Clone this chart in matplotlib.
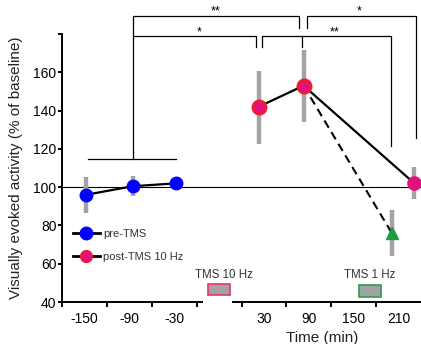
'''
Visually evoked activity before and after 10 Hz TMS (broken time axis).
'''

import matplotlib
matplotlib.use('Agg')
import matplotlib.pyplot as plt
from matplotlib.patches import Rectangle

plt.rcParams['font.family'] = ['Liberation Sans', 'DejaVu Sans']

# pre-TMS baseline
pre_time = [-148, -85, -27]
pre_mean = [96, 100.5, 102]
pre_low = [86.5, 95.5, 99.5]
pre_high = [105.5, 106, 104.5]

# post-TMS 10 Hz
post_time = [23, 83, 231]
post_mean = [142, 153, 102]
post_low = [122.5, 134, 94]
post_high = [160.5, 171.5, 110.5]

# after additional 1 Hz TMS
tms1_time = [201]
tms1_mean = [76]
tms1_low = [64]
tms1_high = [88]

x_ticks_major = [-180, -120, -60, 0, 0, 60, 120, 180]
x_label_pos = [-150, -90, -30, 30, 90, 150, 210]
x_labels = ['-150', '-90', '-30', '30', '90', '150', '210']
y_ticks = [40, 60, 80, 100, 120, 140, 160, 180]
y_labels = ['40', '60', '80', '100', '120', '140', '160', '']

GAP = 60  # minutes of axis skipped between pre and post segments
GREY = '#a3a3a3'
BLUE = '#0000ff'
RED = '#ee1c2e'
MAGENTA = '#e2107c'
GREEN = '#1e9c44'


def pos(t, post=True):
    """Map time to plotting position on the broken axis."""
    return t + GAP if post else t


fig = plt.figure(figsize=(4.21, 3.44), dpi=100)
ax = fig.add_axes([62 / 421, 1 - 302 / 344, 359 / 421, 268 / 344])
ax.set_xlim(-180, 300)
ax.set_ylim(40, 180)

# baseline reference
ax.axhline(100, color='black', lw=0.8, zorder=1)

# error bars
ax.vlines(pre_time, pre_low, pre_high, color=GREY, lw=3.2, zorder=2)
ax.vlines([pos(t) for t in post_time], post_low, post_high, color=GREY, lw=3.2, zorder=2)
ax.vlines([pos(t) for t in tms1_time], tms1_low, tms1_high, color=GREY, lw=3.2, zorder=2)

# pre-TMS line
ax.plot(pre_time, pre_mean, color='black', lw=1.6, marker='o', ms=9,
        mfc=BLUE, mec=BLUE, zorder=4)

# dashed line to 1 Hz point
ax.plot([pos(post_time[1]), pos(tms1_time[0])], [post_mean[1], tms1_mean[0]],
        color='black', lw=1.5, ls=(0, (4, 2.5)), zorder=3)
ax.plot([pos(t) for t in tms1_time], tms1_mean, ls='none', marker='^', ms=9,
        mfc=GREEN, mec=GREEN, zorder=4)

# post-TMS line
post_x = [pos(t) for t in post_time]
ax.plot(post_x, post_mean, color='black', lw=1.6, zorder=3)
ax.plot(post_x[:2], post_mean[:2], ls='none', marker='o', ms=9.5,
        mfc=MAGENTA, mec=RED, mew=2, zorder=4)
ax.plot(post_x[2:], post_mean[2:], ls='none', marker='o', ms=9.5,
        mfc=MAGENTA, mec=MAGENTA, zorder=4, clip_on=False)

# legend
h_pre, = ax.plot([], [], color='black', lw=2, marker='o', ms=9, mfc=BLUE, mec=BLUE)
h_post, = ax.plot([], [], color='black', lw=2, marker='o', ms=8, mfc=MAGENTA, mec=RED, mew=1.5)
leg = ax.legend([h_pre, h_post], ['pre-TMS', 'post-TMS 10 Hz'], loc='upper left',
                bbox_to_anchor=(0.018, 0.29), frameon=False, fontsize=8,
                handlelength=2.4, handletextpad=0.3, labelspacing=1.15,
                borderaxespad=0)
for txt in leg.get_texts():
    txt.set_color('#333333')

# stimulation boxes
ax.add_patch(Rectangle((pos(-45), 43.6), 29, 5.8, facecolor=GREY, edgecolor='#e8307a', lw=1.2))
ax.text(pos(-24), 51, 'TMS 10 Hz', ha='center', va='bottom', fontsize=8.3, color='#333333')
ax.add_patch(Rectangle((pos(157), 42.7), 29, 6.2, facecolor=GREY, edgecolor='#2aa04a', lw=1.2))
ax.text(pos(172), 51, 'TMS 1 Hz', ha='center', va='bottom', fontsize=8.3, color='#333333')

# significance brackets
bk = dict(color='black', lw=0.9, clip_on=False)
ax.plot([pre_time[0] + 3, pre_time[2]], [114.6, 114.6], **bk)
ax.plot([pre_time[1], pre_time[1], pos(77), pos(77)], [114.6, 189.2, 189.2, 183], **bk)
ax.plot([pre_time[1], pos(19), pos(19)], [178.8, 178.8, 173], **bk)
ax.plot([pos(87), pos(87), pos(233), pos(233)], [183, 189.2, 189.2, 125.5], **bk)
ax.plot([pos(28), pos(28), pos(200), pos(200)], [173, 178.8, 178.8, 121.4], **bk)
ax.plot([pos(81), pos(81)], [178.8, 173], **bk)
st = dict(ha='center', va='center', fontsize=9, clip_on=False)
ax.text(pos(-35), 191.8, '**', **st)
ax.text(pos(-56), 180.9, '*', **st)
ax.text(pos(124), 180.9, '**', **st)
ax.text(pos(157), 191.8, '*', **st)

# axes styling
for side in ['top', 'right', 'bottom']:
    ax.spines[side].set_visible(False)
ax.spines['left'].set_linewidth(1.4)
ax.spines['left'].set_bounds(40, 180)
ax.plot([-180, 9], [40, 40], color='black', lw=1.4, clip_on=False, solid_capstyle='butt')
ax.plot([pos(-13), 300], [40, 40], color='black', lw=1.4, clip_on=False, solid_capstyle='butt')

ax.set_yticks(y_ticks)
ax.set_yticklabels(y_labels)
ax.tick_params(axis='y', direction='out', length=3, width=1.4, pad=1, labelsize=10)

ax.set_xticks([pos(t, post=(i > 3)) for i, t in enumerate(x_ticks_major)])
ax.set_xticklabels([])
ax.tick_params(axis='x', which='major', direction='out', length=3.5, width=1.4)
ax.set_xticks([pos(t, post=(t > 0)) for t in x_label_pos], minor=True)
ax.set_xticklabels(x_labels, minor=True)
ax.tick_params(axis='x', which='minor', length=0, pad=7, labelsize=10)

ax.set_ylabel('Visually evoked activity (% of baseline)', fontsize=11, color='#222222')
ax.yaxis.set_label_coords(-0.109, 0.5)
ax.set_xlabel('Time (min)', fontsize=11, color='#222222')
ax.xaxis.set_label_coords(0.724, -0.108)

fig.savefig('out.png', dpi=100)
